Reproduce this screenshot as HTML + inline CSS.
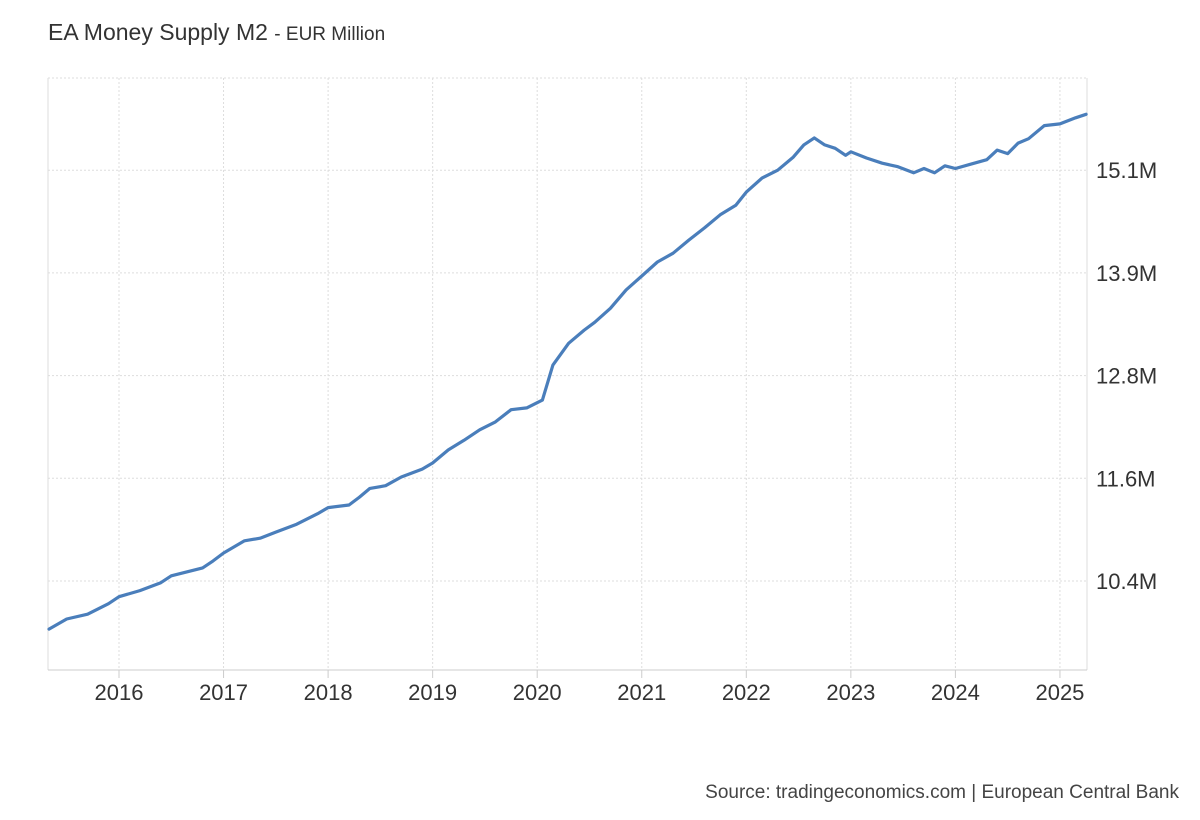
<!DOCTYPE html>
<html><head><meta charset="utf-8">
<style>
body{margin:0;background:#fff;font-family:"Liberation Sans",sans-serif;}
#wrap{position:relative;width:1200px;height:820px;overflow:hidden;}
.title{position:absolute;left:48px;top:19px;font-size:23px;color:#333;}
.title span{font-size:19px;}
.source{position:absolute;right:21px;top:782px;font-size:19px;color:#444;}
</style></head><body>
<div id="wrap">
<svg id="chart" width="1200" height="820" style="position:absolute;left:0;top:0"></svg>
<div class="title">EA Money Supply M2 <span>- EUR Million</span></div>
<div class="source">Source: tradingeconomics.com | European Central Bank</div>
</div>
<script>
const years=[2015.33,2015.5,2015.7,2015.9,2016.0,2016.2,2016.4,2016.5,2016.8,2016.9,2017.0,2017.2,2017.35,2017.5,2017.7,2017.9,2018.0,2018.2,2018.3,2018.4,2018.55,2018.7,2018.9,2019.0,2019.15,2019.3,2019.45,2019.6,2019.75,2019.9,2020.05,2020.15,2020.3,2020.45,2020.55,2020.7,2020.85,2021.0,2021.15,2021.3,2021.45,2021.6,2021.75,2021.9,2022.0,2022.15,2022.3,2022.45,2022.55,2022.65,2022.75,2022.85,2022.95,2023.0,2023.15,2023.3,2023.45,2023.6,2023.7,2023.8,2023.9,2024.0,2024.15,2024.3,2024.4,2024.5,2024.6,2024.7,2024.85,2025.0,2025.15,2025.25];
const values=[9.85,9.965,10.02,10.14,10.22,10.29,10.38,10.46,10.55,10.63,10.72,10.86,10.89,10.96,11.05,11.17,11.24,11.27,11.36,11.46,11.49,11.59,11.68,11.75,11.90,12.01,12.13,12.22,12.36,12.38,12.47,12.87,13.12,13.27,13.36,13.52,13.73,13.89,14.05,14.15,14.30,14.44,14.59,14.70,14.85,15.01,15.10,15.25,15.39,15.47,15.39,15.35,15.27,15.31,15.24,15.18,15.14,15.07,15.12,15.07,15.15,15.12,15.17,15.22,15.33,15.29,15.41,15.46,15.61,15.63,15.70,15.74];
const yTicks=[10.4,11.575,12.75,13.925,15.1];
const yTickLabels=["10.4M","11.6M","12.8M","13.9M","15.1M"];
const xTicks=[2016,2017,2018,2019,2020,2021,2022,2023,2024,2025];
const xTickLabels=["2016","2017","2018","2019","2020","2021","2022","2023","2024","2025"];
const NS="http://www.w3.org/2000/svg";
const svg=document.getElementById('chart');
const L=48,R=1087,T=78,B=670;
const xs=v=>119+(v-2016)*104.55;
const ys=v=>581-(v-10.4)*(102.7/1.175);
function mk(t,a){const e=document.createElementNS(NS,t);for(const k in a)e.setAttribute(k,a[k]);svg.appendChild(e);return e;}
xTicks.forEach((t,i)=>{
 const g=mk('line',{x1:xs(t),x2:xs(t),y1:T,y2:B,stroke:'#ddd','stroke-dasharray':'2,2'});
 
 
 const tk=mk('line',{x1:xs(t),x2:xs(t),y1:B,y2:B+8,stroke:'#ccc'});
 
 
 const tx=mk('text',{x:xs(t),y:700,'text-anchor':'middle','font-size':'22','fill':'#333','font-family':'Liberation Sans, sans-serif'});
 tx.textContent=xTickLabels[i];
 
 
});
yTicks.forEach((t,i)=>{
 const g=mk('line',{x1:L,x2:R,y1:ys(t),y2:ys(t),stroke:'#ddd','stroke-dasharray':'2,2'});
 
 
 const tx=mk('text',{x:1096,y:ys(t)+8,'font-size':'22','fill':'#333','font-family':'Liberation Sans, sans-serif'});
 tx.textContent=yTickLabels[i];
 
 
});
const topLine=mk('line',{x1:L,x2:R,y1:T,y2:T,stroke:'#ddd','stroke-dasharray':'2,2'});


const lb=mk('line',{x1:L,x2:L,y1:T,y2:B,stroke:'#ddd'});


const rb=mk('line',{x1:R,x2:R,y1:T,y2:B,stroke:'#ddd'});


const xa=mk('line',{x1:L,x2:R,y1:B,y2:B,stroke:'#ccc'});


const d=years.map((y,i)=>(i?'L':'M')+xs(y).toFixed(1)+','+ys(values[i]).toFixed(1)).join(' ');
const p=mk('path',{d:d,fill:'none',stroke:'#4a7ebb','stroke-width':'3.2','stroke-linejoin':'round','stroke-linecap':'round'});


</script>
</body></html>
